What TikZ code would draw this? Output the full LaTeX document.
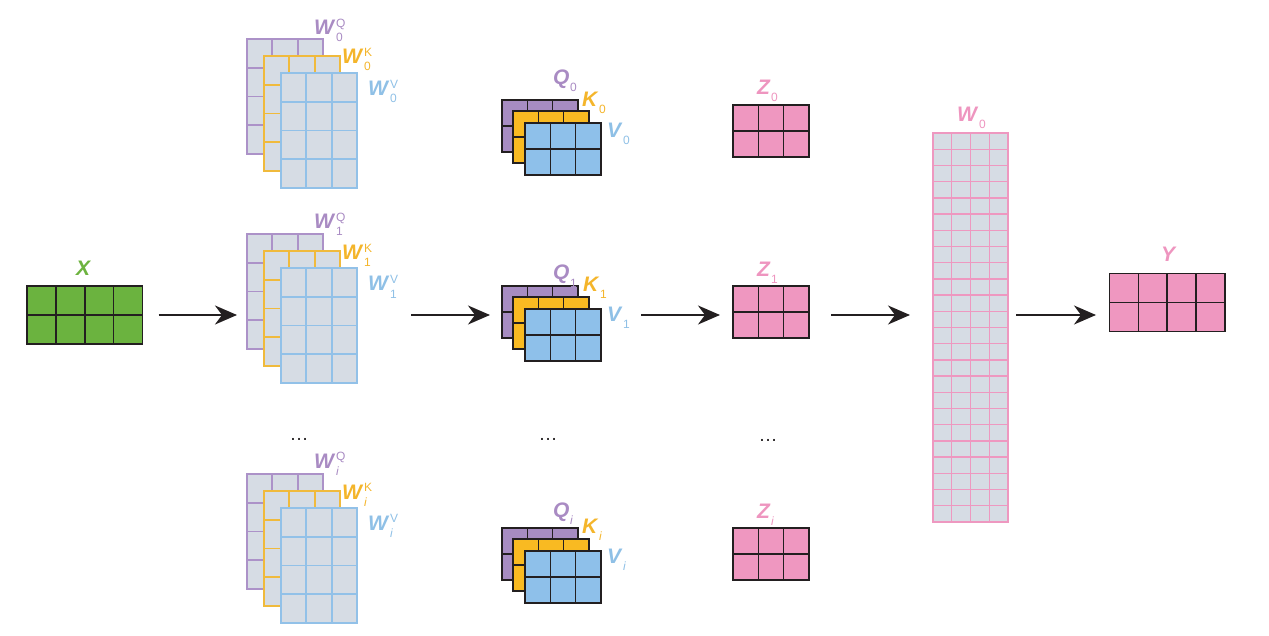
\documentclass[tikz,border=0pt]{standalone}
\usepackage{fontspec}
\setmainfont{Liberation Sans}
\usetikzlibrary{calc,arrows.meta}
\definecolor{grayF}{HTML}{D6DCE4}
\definecolor{wpur}{HTML}{AC92C8}
\definecolor{wyel}{HTML}{F0BA3C}
\definecolor{wblu}{HTML}{92C1E8}
\definecolor{tpur}{HTML}{A98BC3}
\definecolor{tyel}{HTML}{F4B52B}
\definecolor{tblu}{HTML}{8FC0E6}
\definecolor{fpur}{HTML}{A78CC2}
\definecolor{fyel}{HTML}{F9BA22}
\definecolor{fblu}{HTML}{8EC0EA}
\definecolor{fgrn}{HTML}{6BB33F}
\definecolor{tgrn}{HTML}{6DB33F}
\definecolor{fpnk}{HTML}{EF97C0}
\definecolor{tpnk}{HTML}{EE95BF}
\definecolor{bpnk}{HTML}{EE98C0}
\definecolor{ink}{HTML}{231F20}
\newcommand\mlab[3]{\textbf{\textit{#1}}\kern0.5pt\makebox[0pt][l]{\raisebox{-7pt}{\fontsize{12}{12}\selectfont #2}}\raisebox{7.5pt}{\fontsize{12}{12}\selectfont #3}}
\newcommand\slab[2]{\textbf{\textit{#1}}\kern0.5pt\raisebox{-7pt}{\fontsize{12}{12}\selectfont #2}}
\tikzset{
  cells/.style n args={3}{path picture={%
    \foreach \k in {1,...,#1}{\draw[#3] ($(path picture bounding box.north west)!\k/#1!(path picture bounding box.north east)$) -- ($(path picture bounding box.south west)!\k/#1!(path picture bounding box.south east)$);}%
    \foreach \k in {1,...,#2}{\draw[#3] ($(path picture bounding box.north west)!\k/#2!(path picture bounding box.south west)$) -- ($(path picture bounding box.north east)!\k/#2!(path picture bounding box.south east)$);}%
  }},
  mbase/.style={rectangle, inner sep=0pt, outer sep=0pt, anchor=north west},
  wmat/.style={mbase, draw=#1, fill=grayF, line width=1.8pt, minimum width=76pt, minimum height=115pt, cells={3}{4}{draw=#1, line width=1.7pt}},
  qmat/.style={mbase, draw=ink, fill=#1, line width=1.8pt, minimum width=76pt, minimum height=52pt, cells={3}{2}{draw=ink, line width=1.6pt}},
  lab/.style={inner sep=0pt, anchor=base west, text=#1, font=\fontsize{21}{21}\selectfont},
  dotlab/.style={inner sep=0pt, anchor=base, text=ink, font=\fontsize{19}{19}\selectfont},
  arr/.style={draw=ink, line width=2pt, -{Stealth[length=22pt, width=19pt, inset=7pt]}},
}
\begin{document}
\begin{tikzpicture}[x=1pt,y=-1pt]
\useasboundingbox (0,0) rectangle (1269,636);
% input X
\node[mbase, draw=ink, fill=fgrn, line width=1.8pt, minimum width=115.5pt, minimum height=58pt, cells={4}{2}{draw=ink, line width=1.6pt}] (X) at (27,286) {};
\node[lab=tgrn] (Xl) at (76,276) {\textbf{\textit{X}}};
% weight stacks
\node[wmat=wpur] (W0q) at (247,39) {};
\node[wmat=wyel] (W0k) at (264,56) {};
\node[wmat=wblu] (W0v) at (281,73) {};
\node[wmat=wpur] (W1q) at (247,234) {};
\node[wmat=wyel] (W1k) at (264,251) {};
\node[wmat=wblu] (W1v) at (281,268) {};
\node[wmat=wpur] (Wiq) at (247,474) {};
\node[wmat=wyel] (Wik) at (264,491) {};
\node[wmat=wblu] (Wiv) at (281,508) {};
\node[lab=tpur] (W0ql) at (314,35) {\mlab{W}{0}{Q}};
\node[lab=tyel] (W0kl) at (342,64) {\mlab{W}{0}{K}};
\node[lab=tblu] (W0vl) at (368,96) {\mlab{W}{0}{V}};
\node[lab=tpur] (W1ql) at (314,229) {\mlab{W}{1}{Q}};
\node[lab=tyel] (W1kl) at (342,260) {\mlab{W}{1}{K}};
\node[lab=tblu] (W1vl) at (368,291) {\mlab{W}{1}{V}};
\node[lab=tpur] (Wiql) at (314,468) {\mlab{W}{\textit{i}}{Q}};
\node[lab=tyel] (Wikl) at (342,499) {\mlab{W}{\textit{i}}{K}};
\node[lab=tblu] (Wivl) at (368,530) {\mlab{W}{\textit{i}}{V}};
% Q K V stacks
\node[qmat=fpur] (Q0) at (502,100) {};
\node[qmat=fyel] (K0) at (513,111) {};
\node[qmat=fblu] (V0) at (525,123) {};
\node[qmat=fpur] (Q1) at (502,286) {};
\node[qmat=fyel] (K1) at (513,297) {};
\node[qmat=fblu] (V1) at (525,309) {};
\node[qmat=fpur] (Qi) at (502,528) {};
\node[qmat=fyel] (Ki) at (513,539) {};
\node[qmat=fblu] (Vi) at (525,551) {};
\node[lab=tpur] (Q0l) at (553,85) {\slab{Q}{0}};
\node[lab=tyel] (K0l) at (582,107) {\slab{K}{0}};
\node[lab=tblu] (V0l) at (607,138) {\slab{V}{0}};
\node[lab=tpur] (Q1l) at (553,280) {\slab{Q}{1}};
\node[lab=tyel] (K1l) at (583,292) {\slab{K}{1}};
\node[lab=tblu] (V1l) at (607,322) {\slab{V}{1}};
\node[lab=tpur] (Qil) at (553,517) {\slab{Q}{\textit{i}}};
\node[lab=tyel] (Kil) at (582,533) {\slab{K}{\textit{i}}};
\node[lab=tblu] (Vil) at (607,563) {\slab{V}{\textit{i}}};
% Z
\node[qmat=fpnk] (Z0) at (733,105) {};
\node[qmat=fpnk] (Z1) at (733,286) {};
\node[qmat=fpnk] (Zi) at (733,528) {};
\node[lab=tpnk] (Z0l) at (757,95) {\slab{Z}{0}};
\node[lab=tpnk] (Z1l) at (757,277) {\slab{Z}{1}};
\node[lab=tpnk] (Zil) at (757,518) {\slab{Z}{\textit{i}}};
% dots
\node[dotlab] (d1) at (299,440) {…};
\node[dotlab] (d2) at (548,440) {…};
\node[dotlab] (d3) at (768,441) {…};
% W0 output projection
\node[mbase, draw=bpnk, fill=grayF, line width=1.6pt, minimum width=75pt, minimum height=389pt, cells={4}{24}{draw=bpnk, line width=1.4pt}] (WO) at (933,133) {};
\node[lab=tpnk] (WOl) at (957,122) {\slab{W}{0}};
% Y
\node[mbase, draw=ink, fill=fpnk, line width=1.8pt, minimum width=115.5pt, minimum height=58pt, cells={4}{2}{draw=ink, line width=1.6pt}] (Y) at (1109.5,273.5) {};
\node[lab=tpnk] (Yl) at (1161,262) {\textbf{\textit{Y}}};
% arrows
\draw[arr, shorten <=16pt, shorten >=10pt] (X.east) -- (X.east -| W1q.west);
\draw[arr, shorten <=54pt, shorten >=12pt] (X.east -| W1v.east) -- (X.east -| Q1.west);
\draw[arr, shorten <=40pt, shorten >=13pt] (X.east -| V1.east) -- (X.east -| Z1.west);
\draw[arr, shorten <=22pt, shorten >=23pt] (X.east -| Z1.east) -- (X.east -| WO.west);
\draw[arr, shorten <=8pt, shorten >=13.5pt] (X.east -| WO.east) -- (X.east -| Y.west);
\end{tikzpicture}
\end{document}
